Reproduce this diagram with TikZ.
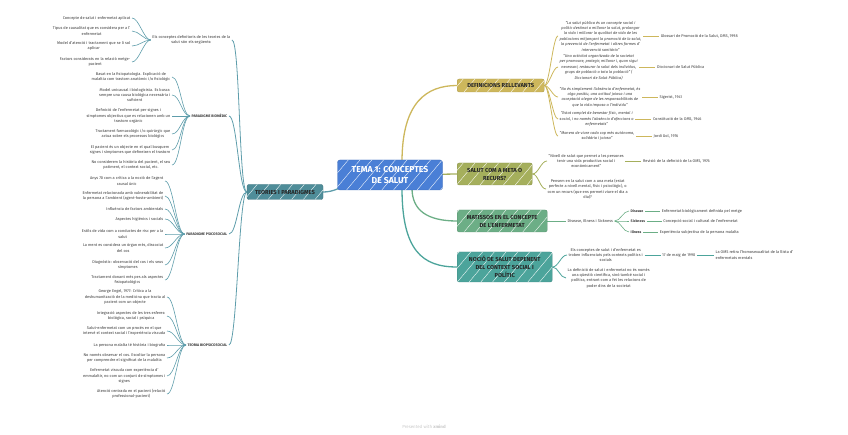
\documentclass[tikz,border=0pt]{standalone}
\usepackage{fontspec}
\setmainfont{Fira Sans}
\usepackage{tikz}
\usetikzlibrary{positioning,calc,backgrounds,patterns.meta}
\definecolor{XTema}{HTML}{4A7FD6}
\definecolor{XTeories}{HTML}{4F8D99}
\definecolor{XDefinicions}{HTML}{CDB75C}
\definecolor{XMeta}{HTML}{A5AF5C}
\definecolor{XMatisos}{HTML}{6CAE86}
\definecolor{XNocio}{HTML}{4CA49B}
\definecolor{XLeft}{HTML}{5E9DAB}
\definecolor{XText}{HTML}{3A3A3A}
\definecolor{XFooter}{HTML}{C8C8C8}
\newcommand\leaffont{\fontsize{3.9}{5.4}\selectfont}
\newcommand\labelfont{\fontsize{3.6}{5}\selectfont\bfseries}
\newcommand\topicfont{\fontsize{5.8}{8}\selectfont\bfseries}
\newcommand\titlefont{\fontsize{8.6}{10.5}\selectfont\bfseries}
\tikzset{
    % Base node style
    basenode/.style={
        align=center,
        text=XText,
        inner sep=1.5pt,
        font=\leaffont
    },
    % Hand-drawn stripes
    hatched/.style={
        postaction={pattern={Lines[angle=50,distance=9pt,line width=0.35pt]},
            pattern color=white, fill opacity=0.15}
    },
    % Central topic style
    centralnode/.style={
        basenode,
        draw=XTema!85!black,
        fill=XTema,
        text=white,
        rounded corners=2.5pt,
        minimum width=105pt,
        minimum height=30pt,
        font=\titlefont,
        hatched
    },
    % Main topic style
    topicnode/.style={
        basenode,
        draw=#1!85!black,
        fill=#1,
        text=black!85,
        rounded corners=2pt,
        inner ysep=3pt,
        font=\topicfont,
        hatched
    },
    % Small bold label
    labelnode/.style={
        basenode,
        font=\labelfont
    },
    % Quote node
    quotenode/.style={
        basenode,
        font=\leaffont\itshape
    },
    % Curved connector
    curvy/.style={
        to path={.. controls +(#1,0) and +(-#1,0) .. (\tikztotarget)}
    },
    % Line styles
    mainline/.style={line width=1.3pt, draw=#1},
    subline/.style={line width=0.8pt, draw=#1},
    leafline/.style={line width=0.6pt, draw=#1}
}

\begin{document}
\begin{tikzpicture}[x=1pt,y=-1pt]
    \useasboundingbox (0,0) rectangle (848,435);

    % Central topic
    \node[centralnode] (tema) at (390,175) {TEMA 1: CONCEPTES\\DE SALUT};

    % Main topics
    \node[topicnode=XTeories, minimum width=76pt, minimum height=15pt] (teo) at (285,192) {TEORIES I PARADIGMES};
    \node[topicnode=XDefinicions, anchor=west, minimum width=87pt, minimum height=13pt] (def) at (457,85.5) {DEFINICIONS RELLEVANTS};
    \node[topicnode=XMeta, anchor=west, minimum width=75pt, minimum height=22pt] (met) at (457,174) {SALUT COM A META O\\RECURS?};
    \node[topicnode=XMatisos, anchor=west, minimum width=90pt, minimum height=22pt] (mat) at (457,221) {MATISSOS EN EL CONCEPTE\\DE L'ENFERMETAT};
    \node[topicnode=XNocio, anchor=west, minimum width=95pt, minimum height=30pt] (noc) at (457,267) {NOCIÓ DE SALUT DEPENENT\\DEL CONTEXT SOCIAL I\\POLÍTIC};

    % Teories i paradigmes
    \node[basenode, anchor=east] (k1) at (232,40) {Els conceptes definitoris de les teories de la\\salut són els següents:};
    \node[labelnode, anchor=east] (k2) at (229,116) {PARADIGME BIOMÈDIC};
    \node[labelnode, anchor=east] (k3) at (229,234) {PARADIGME PSICOSOCIAL};
    \node[labelnode, anchor=east] (k4) at (229,345) {TEORIA BIOPSICOSOCIAL};

    \node[basenode, anchor=east] (a1) at (132,18) {Concepte de salut i enfermetat aplicat};
    \node[basenode, anchor=east] (a2) at (132,31) {Tipus de causalitat que es considera per a l'\\enfermetat};
    \node[basenode, anchor=east] (a3) at (132,46) {Model d'atenció i tractament que se li sol\\aplicar};
    \node[basenode, anchor=east] (a4) at (132,62) {Factors considerats en la relació metge-\\pacient};

    \node[basenode, anchor=east] (b1) at (172,77) {Basat en la fisiopatologia. Explicació de\\malaltia com trastorn anatòmic i/o fisiològic};
    \node[basenode, anchor=east] (b2) at (172,95) {Model unicausal i biologicista. Es busca\\sempre una causa biològica necessària i\\suficient};
    \node[basenode, anchor=east] (b3) at (172,116) {Definició de l'enfermetat per signes i\\símptomes objectius que es relacionen amb un\\trastorn orgànic};
    \node[basenode, anchor=east] (b4) at (172,134) {Tractament farmacològic i/o quirúrgic que\\actua sobre els processos biològics};
    \node[basenode, anchor=east] (b5) at (172,150) {El pacient és un objecte en el qual busquem\\signes i símptomes que defineixen el trastorn};
    \node[basenode, anchor=east] (b6) at (172,165) {No considerem la història del pacient, el seu\\patiment, el context social, etc.};

    \node[basenode, anchor=east] (p1) at (165,181) {Anys 70 com a crítica a la noció de l'agent\\causal únic};
    \node[basenode, anchor=east] (p2) at (165,196) {Enfermetat relacionada amb vulnerabilitat de\\la persona a l'ambient (agent-hoste-ambient)};
    \node[basenode, anchor=east] (p3) at (165,209) {Influència de factors ambientals};
    \node[basenode, anchor=east] (p4) at (165,219) {Aspectes higiènics i socials};
    \node[basenode, anchor=east] (p5) at (165,234) {Estils de vida com a conductes de risc per a la\\salut};
    \node[basenode, anchor=east] (p6) at (165,248) {La ment es considera un òrgan més, dissociat\\del cos};
    \node[basenode, anchor=east] (p7) at (165,265) {Diagnòstic: observació del cos i els seus\\símptomes};
    \node[basenode, anchor=east] (p8) at (165,280) {Tractament donant més pes als aspectes\\fisiopatològics};

    \node[basenode, anchor=east] (t1) at (167,297) {George Engel, 1977: Crítica a la\\deshumanització de la medicina que tracta al\\pacient com un objecte};
    \node[basenode, anchor=east] (t2) at (167,316) {Integració aspectes de les tres esferes:\\biològica, social i psíquica};
    \node[basenode, anchor=east] (t3) at (167,331) {Salut-enfermetat com un procés en el que\\intervé el context social i l'experiència viscuda};
    \node[basenode, anchor=east] (t4) at (167,345) {La persona malalta té història i biografia};
    \node[basenode, anchor=east] (t5) at (167,358) {No només observar el cos. Escoltar la persona\\per comprendre el significat de la malaltia};
    \node[basenode, anchor=east] (t6) at (167,376) {Enfermetat viscuda com experiència d'\\emmalaltir, no com un conjunt de símptomes i\\signes};
    \node[basenode, anchor=east] (t7) at (167,394) {Atenció centrada en el pacient (relació\\professional-pacient)};

    % Definicions rellevants
    \node[quotenode, anchor=west] (d1) at (558,36) {"La salut pública és un concepte social i\\polític destinat a millorar la salut, prolongar\\la vida i millorar la qualitat de vida de les\\poblacions mitjançant la promoció de la salut,\\la prevenció de l'enfermetat i altres formes d'\\intervenció sanitària"};
    \node[quotenode, anchor=west] (d2) at (558,67) {"Una activitat organitzada de la societat\\per promoure, protegir, millorar i, quan sigui\\necessari, restaurar la salut dels individus,\\grups de població o tota la població" (\\Diccionari de Salut Pública)};
    \node[quotenode, anchor=west] (d3) at (558,97) {"No és simplement l'absència d'enfermetat, és\\algo positiu, una actitud joiosa i una\\acceptació alegre de les responsabilitats de\\que la vida imposa a l'individu"};
    \node[quotenode, anchor=west] (d4) at (558,119) {"Estat complet de benestar físic, mental i\\social, i no només l'absència d'afeccions o\\enfermetats"};
    \node[quotenode, anchor=west] (d5) at (558,136) {"Manera de viure cada cop més autònoma,\\solidària i joiosa"};

    \node[basenode, right=16pt of d1] (ds1) {Glossari de Promoció de la Salut, OMS, 1998};
    \node[basenode, right=16pt of d2] (ds2) {Diccionari de Salut Pública};
    \node[basenode, right=16pt of d3] (ds3) {Sigerist, 1941};
    \node[basenode, right=16pt of d4] (ds4) {Constitució de la OMS, 1946};
    \node[basenode, right=16pt of d5] (ds5) {Jordi Gol, 1976};

    % Salut com a meta o recurs
    \node[basenode, anchor=west] (m1) at (547,161) {"Nivell de salut que permet a les persones\\tenir una vida productiva social i\\econòmicament"};
    \node[basenode, anchor=west] (m2) at (546,189) {Pensem en la salut com a una meta (estat\\perfecte a nivell mental, físic i psicològic), o\\com un recurs (que ens permeti viure el dia a\\dia)?};
    \node[basenode, right=16pt of m1] (ms1) {Revisió de la definició de la OMS, 1976};

    % Matissos
    \node[basenode, anchor=west] (x0) at (566,221) {Disease, Illness i Sickness};
    \node[labelnode, anchor=west] (x1) at (629,211) {Disease};
    \node[labelnode, anchor=west] (x2) at (629,221) {Sickness};
    \node[labelnode, anchor=west] (x3) at (629,232) {Illness};
    \node[basenode, right=15pt of x1] (xs1) {Enfermetat biològicament definida pel metge};
    \node[basenode, right=15pt of x2] (xs2) {Concepció social i cultural de l'enfermetat};
    \node[basenode, right=15pt of x3] (xs3) {Experiència subjectiva de la persona malalta};

    % Nocio de salut
    \node[basenode, anchor=west] (n1) at (567,255) {Els conceptes de salut i d'enfermetat es\\troben influenciats pels contexts polítics i\\socials};
    \node[basenode, anchor=west] (n2) at (566,278) {La definició de salut i enfermetat no és només\\una qüestió científica, sinó també social i\\política, entrant com a fet les relacions de\\poder dins de la societat};
    \node[basenode, right=16pt of n1] (nd) {17 de maig de 1990};
    \node[basenode, align=left, right=17pt of nd] (ns) {La OMS retira l'homosexualitat de la llista d'\\enfermetats mentals};

    % Footer
    \node[font=\fontsize{4.4}{5}\selectfont, text=XFooter] (foot) at (424,427) {Presented with \textbf{xmind}};

    % Connectors
    \begin{scope}[on background layer]
        \draw[mainline=XLeft] (tema.center) .. controls +(-40,0) and +(20,0) .. (teo.east);
        \draw[mainline=XDefinicions] ($(tema.north)+(12,2)$) .. controls +(0,-60) and +(-30,0) .. (def.west);
        \draw[mainline=XMeta] (tema.center) -- (met.west);
        \draw[mainline=XMatisos] ($(tema.south)+(22,-2)$) .. controls +(0,22) and +(-30,0) .. (mat.west);
        \draw[mainline=XNocio] ($(tema.south)+(12,-2)$) .. controls +(0,62) and +(-35,0) .. (noc.west);

        \draw[subline=XLeft] (teo.west) to[curvy=-8] (k1.east);
        \draw[subline=XLeft] (teo.west) to[curvy=-8] (k2.east);
        \draw[subline=XLeft] (teo.west) to[curvy=-8] (k3.east);
        \draw[subline=XLeft] (teo.west) to[curvy=-8] (k4.east);
        \foreach \i in {1,...,4} \draw[leafline=XLeft] (k1.west) to[curvy=-7] (a\i.east);
        \foreach \i in {1,...,6} \draw[leafline=XLeft] (k2.west) to[curvy=-8] (b\i.east);
        \foreach \i in {1,...,8} \draw[leafline=XLeft] (k3.west) to[curvy=-8] (p\i.east);
        \foreach \i in {1,...,7} \draw[leafline=XLeft] (k4.west) to[curvy=-8] (t\i.east);

        \foreach \i in {1,...,5} {
            \draw[subline=XDefinicions] (def.east) to[curvy=5] (d\i.west);
            \draw[leafline=XDefinicions] (d\i.east) -- (ds\i.west);
        }

        \draw[subline=XMeta] (met.east) to[curvy=6] (m1.west);
        \draw[subline=XMeta] (met.east) to[curvy=6] (m2.west);
        \draw[leafline=XMeta] (m1.east) -- (ms1.west);

        \draw[subline=XMatisos] (mat.east) -- (x0.west);
        \foreach \i in {1,2,3} {
            \draw[leafline=XMatisos] (x0.east) to[curvy=6] (x\i.west);
            \draw[leafline=XMatisos] (x\i.east) -- (xs\i.west);
        }

        \draw[subline=XNocio] (noc.east) to[curvy=6] (n1.west);
        \draw[subline=XNocio] (noc.east) to[curvy=6] (n2.west);
        \draw[leafline=XNocio] (n1.east) -- (nd.west);
        \draw[leafline=XNocio] (nd.east) -- (ns.west);
    \end{scope}
\end{tikzpicture}
\end{document}
